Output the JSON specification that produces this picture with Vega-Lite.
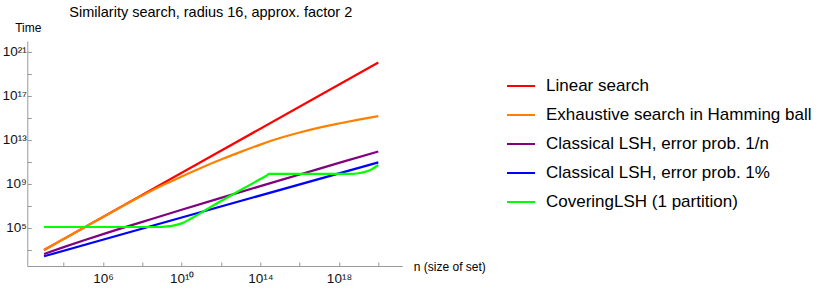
{
  "$schema": "https://vega.github.io/schema/vega-lite/v6.json",
  "width": 375,
  "height": 225,
  "autosize": {"type": "none"},
  "padding": {"left": 27.3, "top": 41, "right": 427.7, "bottom": 25},
  "background": "white",
  "config": {
    "font": "Liberation Sans",
    "view": {"stroke": null},
    "axis": {"grid": false}
  },
  "title": {
    "text": "Similarity search, radius 16, approx. factor 2",
    "fontSize": 14.5,
    "fontWeight": "normal",
    "anchor": "middle",
    "frame": "group",
    "dx": -4,
    "offset": 1,
    "color": "#000000"
  },
  "data": {
    "values": [
      {"series": "Linear search", "n": 1e3, "t": 1e3},
      {"series": "Linear search", "n": 1e11, "t": 1.05e11},
      {"series": "Linear search", "n": 1e20, "t": 1.1e20},

      {"series": "Exhaustive search in Hamming ball", "n": 1e3, "t": 1e3},
      {"series": "Exhaustive search in Hamming ball", "n": 1e4, "t": 1e4},
      {"series": "Exhaustive search in Hamming ball", "n": 1e5, "t": 1e5},
      {"series": "Exhaustive search in Hamming ball", "n": 1e6, "t": 1e6},
      {"series": "Exhaustive search in Hamming ball", "n": 1e7, "t": 9.8e6},
      {"series": "Exhaustive search in Hamming ball", "n": 1e8, "t": 9.1e7},
      {"series": "Exhaustive search in Hamming ball", "n": 1e9, "t": 7.2e8},
      {"series": "Exhaustive search in Hamming ball", "n": 1e10, "t": 4.8e9},
      {"series": "Exhaustive search in Hamming ball", "n": 1e11, "t": 3.0e10},
      {"series": "Exhaustive search in Hamming ball", "n": 1e12, "t": 1.66e11},
      {"series": "Exhaustive search in Hamming ball", "n": 1e13, "t": 8.3e11},
      {"series": "Exhaustive search in Hamming ball", "n": 1e14, "t": 3.8e12},
      {"series": "Exhaustive search in Hamming ball", "n": 1e15, "t": 1.51e13},
      {"series": "Exhaustive search in Hamming ball", "n": 1e16, "t": 4.8e13},
      {"series": "Exhaustive search in Hamming ball", "n": 1e17, "t": 1.32e14},
      {"series": "Exhaustive search in Hamming ball", "n": 1e18, "t": 3.16e14},
      {"series": "Exhaustive search in Hamming ball", "n": 1e19, "t": 7.1e14},
      {"series": "Exhaustive search in Hamming ball", "n": 1e20, "t": 1.48e15},

      {"series": "Classical LSH, error prob. 1/n", "n": 1e3, "t": 437},
      {"series": "Classical LSH, error prob. 1/n", "n": 1e4, "t": 1820},
      {"series": "Classical LSH, error prob. 1/n", "n": 1e5, "t": 7240},
      {"series": "Classical LSH, error prob. 1/n", "n": 1e6, "t": 2.75e4},
      {"series": "Classical LSH, error prob. 1/n", "n": 1e7, "t": 1.02e5},
      {"series": "Classical LSH, error prob. 1/n", "n": 1e8, "t": 3.63e5},
      {"series": "Classical LSH, error prob. 1/n", "n": 1e10, "t": 4.57e6},
      {"series": "Classical LSH, error prob. 1/n", "n": 1e12, "t": 5.5e7},
      {"series": "Classical LSH, error prob. 1/n", "n": 1e14, "t": 6.46e8},
      {"series": "Classical LSH, error prob. 1/n", "n": 1e16, "t": 7.24e9},
      {"series": "Classical LSH, error prob. 1/n", "n": 1e18, "t": 8.3e10},
      {"series": "Classical LSH, error prob. 1/n", "n": 1e20, "t": 9.1e11},

      {"series": "Classical LSH, error prob. 1%", "n": 1e3, "t": 269},
      {"series": "Classical LSH, error prob. 1%", "n": 1e10, "t": 8.9e5},
      {"series": "Classical LSH, error prob. 1%", "n": 1e20, "t": 9.3e10},

      {"series": "CoveringLSH (1 partition)", "n": 1e3, "t": 1.23e5},
      {"series": "CoveringLSH (1 partition)", "n": 3.16e8, "t": 1.23e5},
      {"series": "CoveringLSH (1 partition)", "n": 1e9, "t": 1.29e5},
      {"series": "CoveringLSH (1 partition)", "n": 3.16e9, "t": 1.58e5},
      {"series": "CoveringLSH (1 partition)", "n": 1e10, "t": 2.63e5},
      {"series": "CoveringLSH (1 partition)", "n": 3.16e10, "t": 7.6e5},
      {"series": "CoveringLSH (1 partition)", "n": 1e11, "t": 2.5e6},
      {"series": "CoveringLSH (1 partition)", "n": 3.16e11, "t": 8.5e6},
      {"series": "CoveringLSH (1 partition)", "n": 1e12, "t": 2.82e7},
      {"series": "CoveringLSH (1 partition)", "n": 1e13, "t": 2.82e8},
      {"series": "CoveringLSH (1 partition)", "n": 1e14, "t": 2.82e9},
      {"series": "CoveringLSH (1 partition)", "n": 2e14, "t": 5.6e9},
      {"series": "CoveringLSH (1 partition)", "n": 2.82e14, "t": 8.3e9},
      {"series": "CoveringLSH (1 partition)", "n": 1e17, "t": 8.3e9},
      {"series": "CoveringLSH (1 partition)", "n": 3.16e18, "t": 8.3e9},
      {"series": "CoveringLSH (1 partition)", "n": 1e19, "t": 9.55e9},
      {"series": "CoveringLSH (1 partition)", "n": 3.16e19, "t": 1.58e10},
      {"series": "CoveringLSH (1 partition)", "n": 1e20, "t": 5.37e10}
    ]
  },
  "mark": {"type": "line", "strokeWidth": 2.2, "interpolate": "monotone"},
  "encoding": {
    "x": {
      "field": "n",
      "type": "quantitative",
      "scale": {"type": "log", "domain": [141, 1.66e21], "nice": false},
      "axis": {
        "title": "n (size of set)",
        "titleFontSize": 12,
        "titleFontWeight": "normal",
        "titleColor": "#000000",
        "titleAngle": 0,
        "titleAlign": "left",
        "titleBaseline": "middle",
        "titleX": 386,
        "titleY": 0.5,
        "values": [1e4, 1e6, 1e8, 1e10, 1e12, 1e14, 1e16, 1e18, 1e20],
        "labelExpr": "datum.value == 1e6 ? '10⁶' : datum.value == 1e10 ? '10¹⁰' : datum.value == 1e14 ? '10¹⁴' : datum.value == 1e18 ? '10¹⁸' : ''",
        "labelFontSize": 13.5,
        "labelColor": "#111111",
        "labelPadding": 9,
        "labelFlush": false,
        "tickSize": -4,
        "tickColor": "#999999",
        "domainColor": "#999999",
        "grid": false
      }
    },
    "y": {
      "field": "t",
      "type": "quantitative",
      "scale": {"type": "log", "domain": [35.1, 1e22], "nice": false},
      "axis": {
        "title": "Time",
        "titleFontSize": 12,
        "titleFontWeight": "normal",
        "titleColor": "#000000",
        "titleAngle": 0,
        "titleAlign": "center",
        "titleBaseline": "middle",
        "titleX": 0.5,
        "titleY": -14,
        "values": [1e3, 1e5, 1e7, 1e9, 1e11, 1e13, 1e15, 1e17, 1e19, 1e21],
        "labelExpr": "datum.value == 1e5 ? '10⁵' : datum.value == 1e9 ? '10⁹' : datum.value == 1e13 ? '10¹³' : datum.value == 1e17 ? '10¹⁷' : datum.value == 1e21 ? '10²¹' : ''",
        "labelFontSize": 13.5,
        "labelColor": "#111111",
        "labelPadding": 5,
        "labelFlush": false,
        "tickSize": -4,
        "tickColor": "#999999",
        "domainColor": "#999999",
        "grid": false
      }
    },
    "color": {
      "field": "series",
      "type": "nominal",
      "scale": {
        "domain": ["Linear search", "Exhaustive search in Hamming ball", "Classical LSH, error prob. 1/n", "Classical LSH, error prob. 1%", "CoveringLSH (1 partition)"],
        "range": ["#ff0000", "#ff8000", "#800080", "#0000ff", "#00ff00"]
      },
      "legend": {
        "title": null,
        "orient": "none",
        "legendX": 478.7,
        "legendY": 30,
        "symbolType": "stroke",
        "symbolSize": 784,
        "symbolStrokeWidth": 2,
        "labelFontSize": 17,
        "labelColor": "#000000",
        "labelOffset": 10,
        "labelLimit": 400,
        "rowPadding": 6
      }
    }
  }
}
